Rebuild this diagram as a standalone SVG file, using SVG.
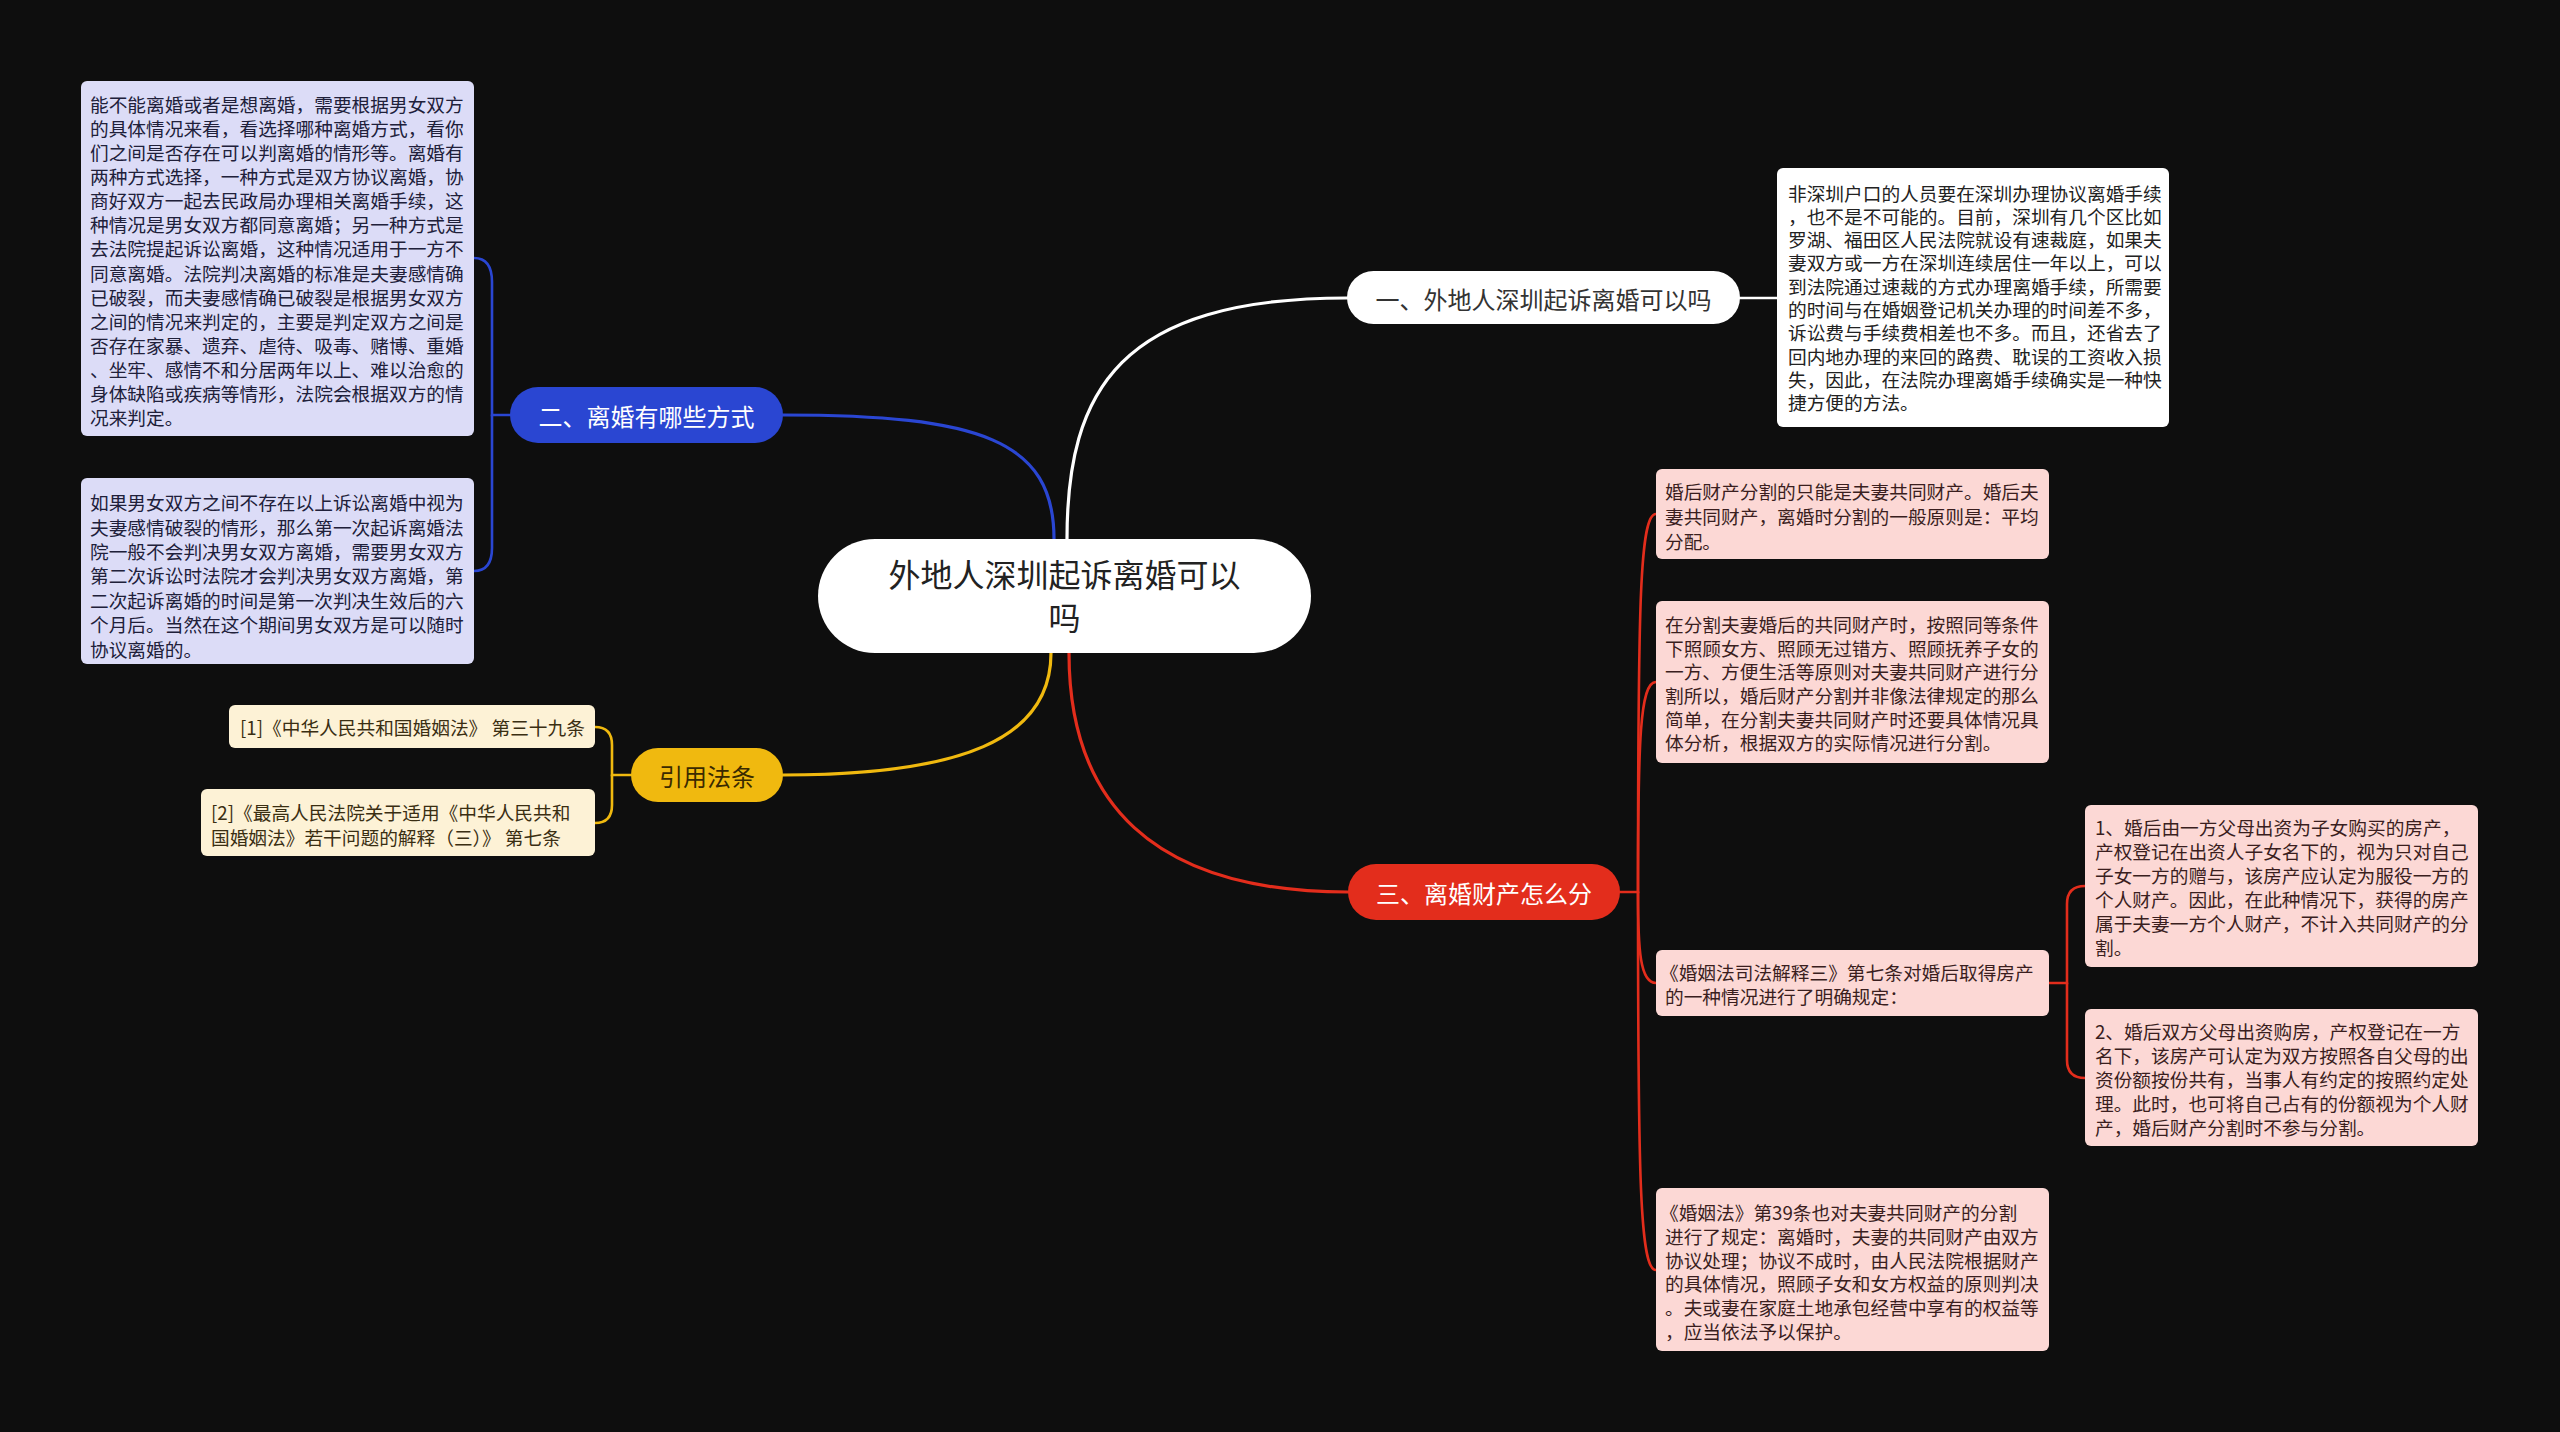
<svg xmlns="http://www.w3.org/2000/svg" width="2560" height="1432" viewBox="0 0 2560 1432">
<style>
text{font-family:"Noto Sans CJK SC","Noto Sans",sans-serif;dominant-baseline:central}
.t{font-size:18.7px}
.lav{fill:#dcdcf7}
.pink{fill:#fcd8d5}
.cream{fill:#fdf2d6}
.wbox{fill:#ffffff}
.tl{fill:#20203a}
.tp{fill:#3a1e1e}
.tc{fill:#3a2e12}
.tw{fill:#222222}
.conn{fill:none;stroke-width:3.2;stroke-linecap:round}
.br{fill:none;stroke-width:2.6;stroke-linecap:round}
.node{font-size:24px}
</style>
<rect x="0" y="0" width="2560" height="1432" fill="#0e0e0e"/>

<g id="connectors">
  <path class="conn" stroke="#ffffff" d="M1067,539 C1067,390 1120,298 1347,298"/>
  <path class="conn" stroke="#2a46d2" d="M1054,539 C1054,440 980,415 783,415"/>
  <path class="conn" stroke="#f0b90f" d="M1051,653 C1051,740 960,775 783,775"/>
  <path class="conn" stroke="#e32d1c" d="M1069,653 C1069,800 1150,892 1348,892"/>
  <path class="br" stroke="#ffffff" d="M1740,298 L1777,298"/>
  <path class="br" stroke="#2a46d2" d="M510,415 L492,415 L492,282 Q492,258 474,258"/>
  <path class="br" stroke="#2a46d2" d="M492,415 L492,548 Q492,571 474,571"/>
  <path class="br" stroke="#f0b90f" d="M631,775 L612,775 L612,745 Q612,727 595,727"/>
  <path class="br" stroke="#f0b90f" d="M612,775 L612,805 Q612,823 595,823"/>
  <path class="br" stroke="#e32d1c" d="M1620,892 L1638,892 C1638,600 1640,514 1656,514"/>
  <path class="br" stroke="#e32d1c" d="M1638,892 C1638,740 1640,682 1656,682"/>
  <path class="br" stroke="#e32d1c" d="M1638,892 C1638,950 1640,983 1656,983"/>
  <path class="br" stroke="#e32d1c" d="M1638,892 C1638,1180 1640,1270 1656,1270"/>
  <path class="br" stroke="#e32d1c" d="M2049,983 L2067,983 L2067,904 Q2067,886 2085,886"/>
  <path class="br" stroke="#e32d1c" d="M2067,983 L2067,1060 Q2067,1078 2085,1078"/>
</g>

<g id="center">
  <rect x="818" y="539" width="493" height="114" rx="57" fill="#ffffff"/>
  <text x="1064.5" y="573" font-size="32" fill="#222" text-anchor="middle">外地人深圳起诉离婚可以</text>
  <text x="1064.5" y="616" font-size="32" fill="#222" text-anchor="middle">吗</text>
</g>

<g id="b1">
  <rect x="1347" y="271" width="393" height="53" rx="26.5" fill="#ffffff"/>
  <text class="node" x="1543.5" y="298" fill="#333" text-anchor="middle">一、外地人深圳起诉离婚可以吗</text>
</g>

<g id="b1-detail">
  <rect class="wbox" x="1777" y="168" width="392" height="259" rx="6"/>
  <text class="t tw" x="1788" y="192">非深圳户口的人员要在深圳办理协议离婚手续</text>
  <text class="t tw" x="1788" y="215.3">，也不是不可能的。目前，深圳有几个区比如</text>
  <text class="t tw" x="1788" y="238.6">罗湖、福田区人民法院就设有速裁庭，如果夫</text>
  <text class="t tw" x="1788" y="261.9">妻双方或一方在深圳连续居住一年以上，可以</text>
  <text class="t tw" x="1788" y="285.2">到法院通过速裁的方式办理离婚手续，所需要</text>
  <text class="t tw" x="1788" y="308.5">的时间与在婚姻登记机关办理的时间差不多，</text>
  <text class="t tw" x="1788" y="331.8">诉讼费与手续费相差也不多。而且，还省去了</text>
  <text class="t tw" x="1788" y="355.1">回内地办理的来回的路费、耽误的工资收入损</text>
  <text class="t tw" x="1788" y="378.4">失，因此，在法院办理离婚手续确实是一种快</text>
  <text class="t tw" x="1788" y="401.7">捷方便的方法。</text>
</g>

<g id="b2">
  <rect x="510" y="387" width="273" height="56" rx="28" fill="#2a46d2"/>
  <text class="node" x="646.5" y="415" fill="#ffffff" text-anchor="middle">二、离婚有哪些方式</text>
</g>

<g id="b2-detail1">
  <rect class="lav" x="81" y="81" width="393" height="355" rx="6"/>
  <text class="t tl" x="90" y="103.3">能不能离婚或者是想离婚，需要根据男女双方</text>
  <text class="t tl" x="90" y="127.4">的具体情况来看，看选择哪种离婚方式，看你</text>
  <text class="t tl" x="90" y="151.5">们之间是否存在可以判离婚的情形等。离婚有</text>
  <text class="t tl" x="90" y="175.6">两种方式选择，一种方式是双方协议离婚，协</text>
  <text class="t tl" x="90" y="199.7">商好双方一起去民政局办理相关离婚手续，这</text>
  <text class="t tl" x="90" y="223.8">种情况是男女双方都同意离婚；另一种方式是</text>
  <text class="t tl" x="90" y="247.9">去法院提起诉讼离婚，这种情况适用于一方不</text>
  <text class="t tl" x="90" y="272">同意离婚。法院判决离婚的标准是夫妻感情确</text>
  <text class="t tl" x="90" y="296.1">已破裂，而夫妻感情确已破裂是根据男女双方</text>
  <text class="t tl" x="90" y="320.2">之间的情况来判定的，主要是判定双方之间是</text>
  <text class="t tl" x="90" y="344.3">否存在家暴、遗弃、虐待、吸毒、赌博、重婚</text>
  <text class="t tl" x="90" y="368.4">、坐牢、感情不和分居两年以上、难以治愈的</text>
  <text class="t tl" x="90" y="392.5">身体缺陷或疾病等情形，法院会根据双方的情</text>
  <text class="t tl" x="90" y="416.6">况来判定。</text>
</g>

<g id="b2-detail2">
  <rect class="lav" x="81" y="478" width="393" height="186" rx="6"/>
  <text class="t tl" x="90" y="501.7">如果男女双方之间不存在以上诉讼离婚中视为</text>
  <text class="t tl" x="90" y="526.1">夫妻感情破裂的情形，那么第一次起诉离婚法</text>
  <text class="t tl" x="90" y="550.5">院一般不会判决男女双方离婚，需要男女双方</text>
  <text class="t tl" x="90" y="574.9">第二次诉讼时法院才会判决男女双方离婚，第</text>
  <text class="t tl" x="90" y="599.3">二次起诉离婚的时间是第一次判决生效后的六</text>
  <text class="t tl" x="90" y="623.7">个月后。当然在这个期间男女双方是可以随时</text>
  <text class="t tl" x="90" y="648.1">协议离婚的。</text>
</g>

<g id="b4">
  <rect x="631" y="748" width="152" height="54" rx="27" fill="#f0b90f"/>
  <text class="node" x="707" y="775" fill="#3a2a00" text-anchor="middle">引用法条</text>
</g>

<g id="ref1">
  <rect class="cream" x="229" y="705" width="366" height="43" rx="6"/>
  <text class="t tc" x="240" y="726.7">[1]《中华人民共和国婚姻法》 第三十九条</text>
</g>

<g id="ref2">
  <rect class="cream" x="201" y="789" width="394" height="67" rx="6"/>
  <text class="t tc" x="211" y="811.7">[2]《最高人民法院关于适用《中华人民共和</text>
  <text class="t tc" x="211" y="836.7">国婚姻法》若干问题的解释（三）》 第七条</text>
</g>

<g id="b3">
  <rect x="1348" y="864" width="272" height="56" rx="28" fill="#e32d1c"/>
  <text class="node" x="1484" y="892" fill="#ffffff" text-anchor="middle">三、离婚财产怎么分</text>
</g>

<g id="b3-p1">
  <rect class="pink" x="1656" y="469" width="393" height="90" rx="6"/>
  <text class="t tp" x="1665" y="490">婚后财产分割的只能是夫妻共同财产。婚后夫</text>
  <text class="t tp" x="1665" y="515">妻共同财产，离婚时分割的一般原则是：平均</text>
  <text class="t tp" x="1665" y="540">分配。</text>
</g>

<g id="b3-p2">
  <rect class="pink" x="1656" y="601" width="393" height="162" rx="6"/>
  <text class="t tp" x="1665" y="623.3">在分割夫妻婚后的共同财产时，按照同等条件</text>
  <text class="t tp" x="1665" y="647">下照顾女方、照顾无过错方、照顾抚养子女的</text>
  <text class="t tp" x="1665" y="670.7">一方、方便生活等原则对夫妻共同财产进行分</text>
  <text class="t tp" x="1665" y="694.4">割所以，婚后财产分割并非像法律规定的那么</text>
  <text class="t tp" x="1665" y="718.1">简单，在分割夫妻共同财产时还要具体情况具</text>
  <text class="t tp" x="1665" y="741.8">体分析，根据双方的实际情况进行分割。</text>
</g>

<g id="b3-p3">
  <rect class="pink" x="1656" y="950" width="393" height="66" rx="6"/>
  <text class="t tp" x="1660" y="971.7">《婚姻法司法解释三》第七条对婚后取得房产</text>
  <text class="t tp" x="1665" y="995">的一种情况进行了明确规定：</text>
</g>

<g id="b3-p3-1">
  <rect class="pink" x="2085" y="805" width="393" height="162" rx="6"/>
  <text class="t tp" x="2095" y="826.7">1、婚后由一方父母出资为子女购买的房产，</text>
  <text class="t tp" x="2095" y="850.7">产权登记在出资人子女名下的，视为只对自己</text>
  <text class="t tp" x="2095" y="874.7">子女一方的赠与，该房产应认定为服役一方的</text>
  <text class="t tp" x="2095" y="898.7">个人财产。因此，在此种情况下，获得的房产</text>
  <text class="t tp" x="2095" y="922.7">属于夫妻一方个人财产，不计入共同财产的分</text>
  <text class="t tp" x="2095" y="946.7">割。</text>
</g>

<g id="b3-p3-2">
  <rect class="pink" x="2085" y="1009" width="393" height="137" rx="6"/>
  <text class="t tp" x="2095" y="1030">2、婚后双方父母出资购房，产权登记在一方</text>
  <text class="t tp" x="2095" y="1054">名下，该房产可认定为双方按照各自父母的出</text>
  <text class="t tp" x="2095" y="1078">资份额按份共有，当事人有约定的按照约定处</text>
  <text class="t tp" x="2095" y="1102">理。此时，也可将自己占有的份额视为个人财</text>
  <text class="t tp" x="2095" y="1126">产，婚后财产分割时不参与分割。</text>
</g>

<g id="b3-p4">
  <rect class="pink" x="1656" y="1188" width="393" height="163" rx="6"/>
  <text class="t tp" x="1660" y="1211.7">《婚姻法》第39条也对夫妻共同财产的分割</text>
  <text class="t tp" x="1665" y="1235.4">进行了规定：离婚时，夫妻的共同财产由双方</text>
  <text class="t tp" x="1665" y="1259.1">协议处理；协议不成时，由人民法院根据财产</text>
  <text class="t tp" x="1665" y="1282.8">的具体情况，照顾子女和女方权益的原则判决</text>
  <text class="t tp" x="1665" y="1306.5">。夫或妻在家庭土地承包经营中享有的权益等</text>
  <text class="t tp" x="1665" y="1330.2">，应当依法予以保护。</text>
</g>
</svg>
